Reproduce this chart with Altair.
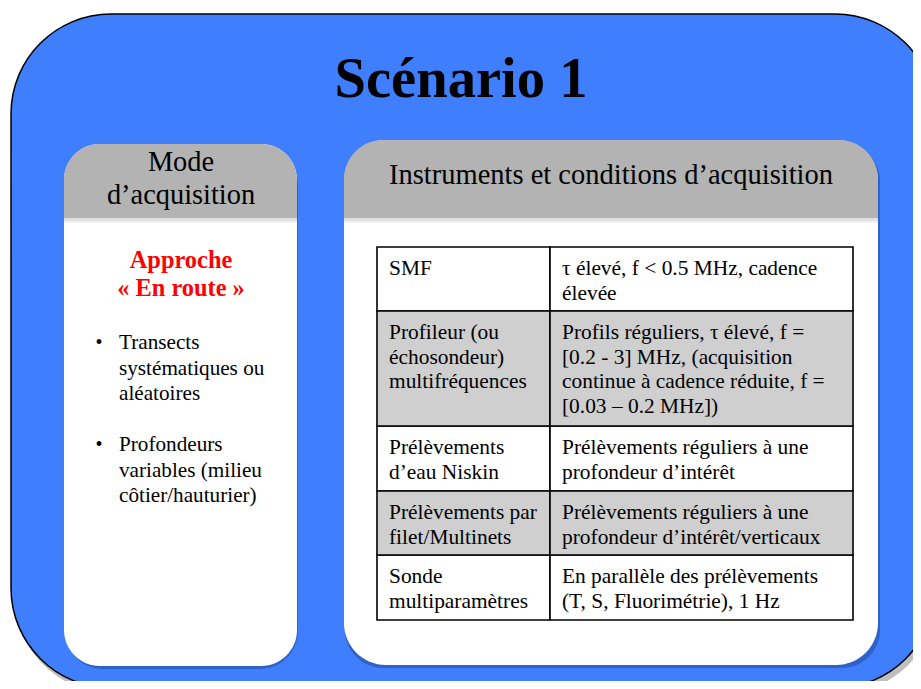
import altair as alt
import pandas as pd

# ---------------- content ----------------
title = "Scénario 1"
left_header = ["Mode", "d’acquisition"]
right_header = ["Instruments et conditions d’acquisition"]
approach = ["Approche", "« En route »"]
bullets = [
    ["Transects", "systématiques ou", "aléatoires"],
    ["Profondeurs", "variables (milieu", "côtier/hauturier)"],
]
instruments = [
    ["SMF"],
    ["Profileur (ou", "échosondeur)", "multifréquences"],
    ["Prélèvements", "d’eau Niskin"],
    ["Prélèvements par", "filet/Multinets"],
    ["Sonde", "multiparamètres"],
]
conditions = [
    ["τ élevé, f < 0.5 MHz, cadence", "élevée"],
    ["Profils réguliers, τ élevé, f =", "[0.2 - 3] MHz, (acquisition",
     "continue à cadence réduite, f =", "[0.03 – 0.2 MHz])"],
    ["Prélèvements réguliers à une", "profondeur d’intérêt"],
    ["Prélèvements réguliers à une", "profondeur d’intérêt/verticaux"],
    ["En parallèle des prélèvements", "(T, S, Fluorimétrie), 1 Hz"],
]
row_shaded = [False, True, False, True, False]

# ---------------- layout (pixel space of the slide) ----------------
row_edges = [247, 311, 426, 491, 555, 620]
col_edges = [377, 550, 853]
line_gap = 24.5
BLUE = "#3F7EFC"
GRAY = "#B3B3B3"
CELL_GRAY = "#CFCFCF"
SERIF = "Liberation Serif"

# the page has an 8px margin: the view covers slide pixels 8..913 x 8..681
W, H = 905, 673
xs = alt.Scale(domain=[8, 8 + W], nice=False, zero=False)
ys = alt.Scale(domain=[8, 8 + H], nice=False, zero=False, reverse=True)


def rects(rows, **kw):
    df = pd.DataFrame(rows, columns=["x0", "x1", "y0", "y1"])
    return alt.Chart(df).mark_rect(**kw).encode(
        x=alt.X("x0:Q", scale=xs, axis=None),
        x2="x1:Q",
        y=alt.Y("y0:Q", scale=ys, axis=None),
        y2="y1:Q",
    )


def texts(rows, **kw):
    df = pd.DataFrame(rows, columns=["x", "y", "text"])
    base = dict(font=SERIF, baseline="alphabetic", color="black")
    base.update(kw)
    return alt.Chart(df).mark_text(**base).encode(
        x=alt.X("x:Q", scale=xs, axis=None),
        y=alt.Y("y:Q", scale=ys, axis=None),
        text="text:N",
    )


layers = []
# outer blue frame with soft shadow
layers.append(rects([[14, 938, 17, 694]], fill="#000000", opacity=0.25, cornerRadius=100))
layers.append(rects([[11, 935, 14, 688]], fill=BLUE, stroke="black", strokeWidth=1.5, cornerRadius=100))

# panel shadows
layers.append(rects([[65, 298, 147, 669], [345, 880, 143, 668]], fill="#1f3f8a", opacity=0.45, cornerRadius=38))
# panels (white body)
layers.append(rects([[64, 297, 144, 666]], fill="white", cornerRadius=36))
layers.append(rects([[344, 878, 140, 665]], fill="white", cornerRadius=42))
# gray headers
layers.append(rects([[64, 297, 144, 218]], fill=GRAY, cornerRadiusTopLeft=36, cornerRadiusTopRight=36))
layers.append(rects([[344, 878, 140, 218]], fill=GRAY, cornerRadiusTopLeft=42, cornerRadiusTopRight=42))
# header shadow on the white body
layers.append(rects([[64, 297, 218, 221], [344, 878, 218, 221]], fill="#000000", opacity=0.12))
layers.append(rects([[64, 297, 221, 223], [344, 878, 221, 223]], fill="#000000", opacity=0.05))

# table cells
cells_plain, cells_shaded = [], []
for i, shaded in enumerate(row_shaded):
    for j in range(2):
        c = [col_edges[j], col_edges[j + 1], row_edges[i], row_edges[i + 1]]
        (cells_shaded if shaded else cells_plain).append(c)
layers.append(rects(cells_plain, fill="white", stroke="black", strokeWidth=1.6))
layers.append(rects(cells_shaded, fill=CELL_GRAY, stroke="black", strokeWidth=1.6))

# table text
tab_rows = []
for i in range(len(instruments)):
    top = row_edges[i]
    for k, line in enumerate(instruments[i]):
        tab_rows.append([col_edges[0] + 12, top + 28 + k * line_gap, line])
    for k, line in enumerate(conditions[i]):
        tab_rows.append([col_edges[1] + 12, top + 28 + k * line_gap, line])
layers.append(texts(tab_rows, align="left", fontSize=21.4))

# title & headers
layers.append(texts([[461, 97, title]], align="center", fontSize=56.6, fontWeight="bold"))
layers.append(texts([[181, 171 + k * 33, t] for k, t in enumerate(left_header)], align="center", fontSize=28.4))
layers.append(texts([[611, 184, right_header[0]]], align="center", fontSize=28.5))

# left panel content
layers.append(texts([[181, 268 + k * 28, t] for k, t in enumerate(approach)],
                    align="center", fontSize=24.4, fontWeight="bold", color="#FF0000"))
b_rows, dot_rows = [], []
starts = [349, 451]
for b, lines in enumerate(bullets):
    dot_rows.append([99, starts[b], "•"])
    for k, line in enumerate(lines):
        b_rows.append([119, starts[b] + k * 25.5, line])
layers.append(texts(dot_rows, align="center", fontSize=20))
layers.append(texts(b_rows, align="left", fontSize=21.2))

chart = alt.layer(*layers).properties(
    width=W, height=H, padding=0, autosize=alt.AutoSizeParams(type="none"),
    background="white",
).configure_view(strokeWidth=0)

chart.save("out.html", embed_options={"renderer": "svg", "actions": False})
